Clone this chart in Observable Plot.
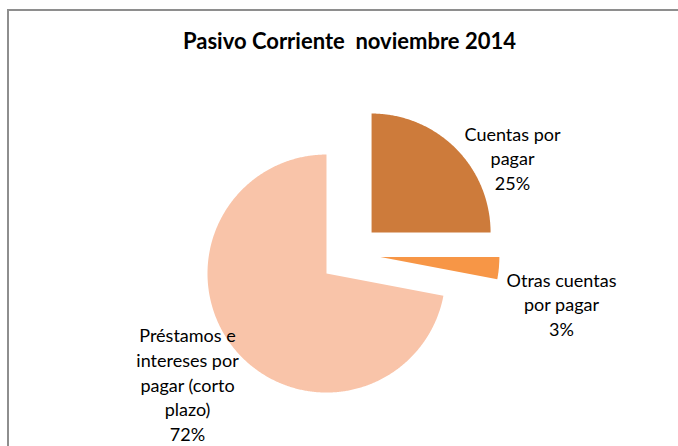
<!DOCTYPE html>
<html><head><meta charset="utf-8">
<script src="https://cdn.jsdelivr.net/npm/d3@7"></script>
<script src="https://cdn.jsdelivr.net/npm/@observablehq/plot@0.6"></script>
<style>
html,body{margin:0;padding:0;background:#fff;overflow:hidden}
#wrap{position:relative;width:678px;height:446px;overflow:hidden;background:#fff}
#frame{position:absolute;left:7px;top:9px;width:720px;height:480px;border-left:2px solid #8e8e8e;border-top:2px solid #8e8e8e}
#title{position:absolute;left:0;top:30px;width:699px;text-align:center;font-family:Lato,sans-serif;font-weight:bold;font-size:22px;line-height:22px;white-space:pre;color:#000}
#chart{position:absolute;left:0;top:0}
</style>
</head><body>
<div id="wrap"><div id="frame"></div><div id="chart"></div><div id="title"></div></div>
<script>
// ---- data ----
const title = "Pasivo Corriente  noviembre 2014";
const categories = ["Cuentas por pagar", "Otras cuentas por pagar", "Préstamos e intereses por pagar (corto plazo)"];
const shares = [25, 3, 72];
const labelLines = [["Cuentas por", "pagar"], ["Otras cuentas", "por pagar"], ["Préstamos e", "intereses por", "pagar (corto", "plazo)"]];
const colors = ["#CD7B3B", "#F79646", "#F9C4A9"];

// ---- layout ----
const W = 678, H = 446;
const cx = 349.5, cy = 253.6, R = 119, explode = 30.5;
const labelOffset = [[162.5, -96.6], [211.5, 49.4], [-162.5, 129.5]];

document.getElementById("title").textContent = title;

const total = d3.sum(shares);
const arcs = d3.pie().sort(null).value(d => d)(shares);
const pts = [];
arcs.forEach((a, i) => {
  const cat = categories[i];
  const mid = (a.startAngle + a.endAngle) / 2;
  const ox = cx + explode * Math.sin(mid), oy = cy - explode * Math.cos(mid);
  pts.push({cat, x: ox, y: oy});
  const n = Math.max(2, Math.ceil((a.endAngle - a.startAngle) / (Math.PI / 360)));
  for (let k = 0; k <= n; k++) {
    const t = a.startAngle + (a.endAngle - a.startAngle) * k / n;
    pts.push({cat, x: ox + R * Math.sin(t), y: oy - R * Math.cos(t)});
  }
});
const labels = categories.map((c, i) => ({
  text: labelLines[i].concat([Math.round(shares[i] / total * 100) + "%"]).join("\n"),
  x: cx + labelOffset[i][0],
  y: cy + labelOffset[i][1]
}));

const chart = Plot.plot({
  width: W, height: H, margin: 0,
  x: {domain: [0, W], range: [0, W], axis: null},
  y: {domain: [0, H], range: [0, H], axis: null},
  color: {domain: categories, range: colors},
  style: {background: "transparent", overflow: "visible"},
  marks: [
    Plot.line(pts, {x: "x", y: "y", z: "cat", fill: "cat", stroke: "none", curve: "linear-closed"}),
    Plot.text(labels, {x: "x", y: "y", text: "text", fontSize: 18, lineHeight: 1.37, fill: "#000", fontFamily: "Lato"})
  ]
});
document.getElementById("chart").appendChild(chart);
</script>
</body></html>
